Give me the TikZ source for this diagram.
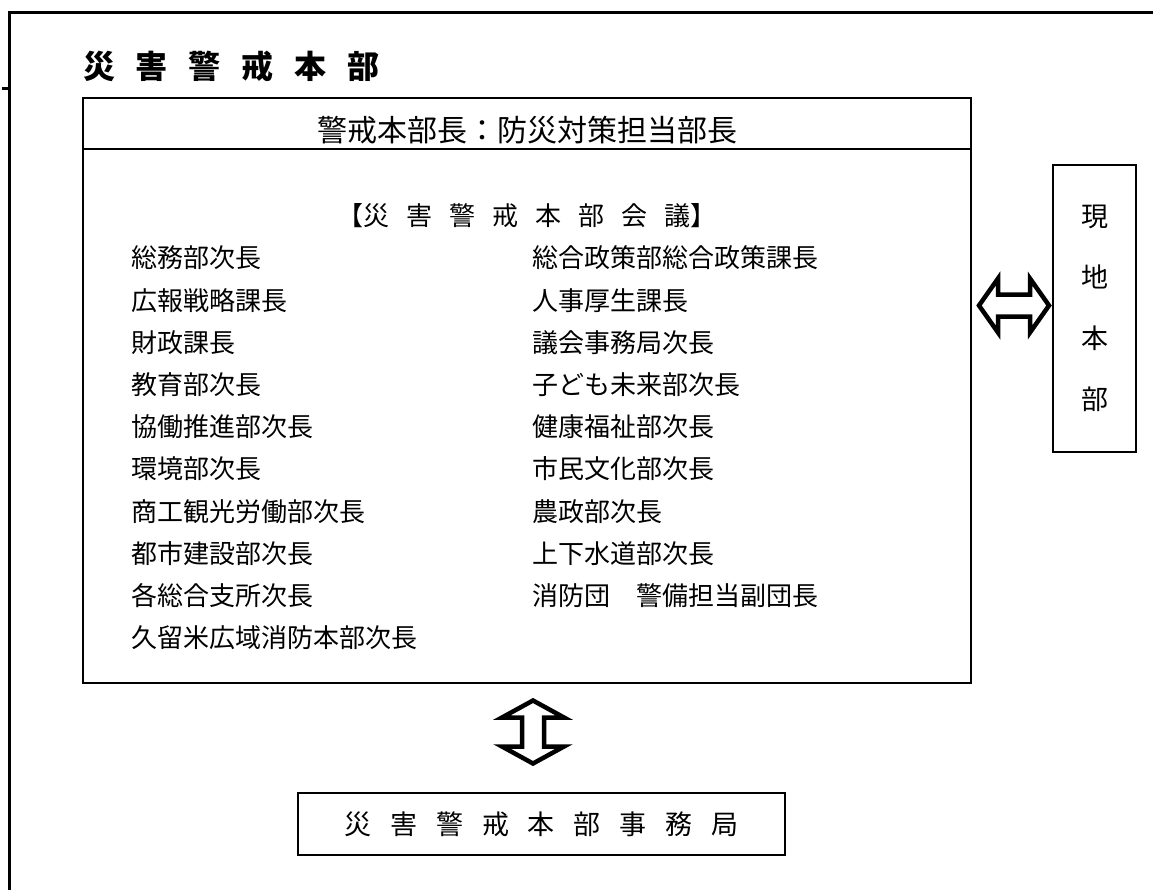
\documentclass[tikz,border=0pt]{standalone}
\usepackage{fontspec}
\setmainfont{Noto Sans CJK JP}
\usetikzlibrary{%
    calc,
    positioning
}
\tikzset{
    panel/.style = {draw, line width=2pt, inner sep=0pt},
    fatarrow/.style = {draw, line width=4.5pt, fill=white, line join=miter},
    member/.style = {anchor=west, inner sep=0pt, font=\fontsize{26}{26}\selectfont},
}
\newcommand{\kgap}[1][0.65em]{\hspace{#1}}

\begin{document}
\begin{tikzpicture}[x=1pt, y=-1pt]
    \useasboundingbox (0,0) rectangle (1153,889);
    % outer frame runs off the page on the right and bottom
    \draw[line width=3pt] (9,920) |- (1190,12);
    \draw[line width=3pt] (2,88) -- (9,88);

    \node[anchor=west, inner sep=0pt, font=\fontsize{32}{32}\selectfont\bfseries] (title) at (83,66)
        {災\kgap 害\kgap 警\kgap 戒\kgap 本\kgap 部};

    \node[panel, minimum width=888pt, minimum height=585pt] (kaigi) at (527,390.5) {};
    \node[inner sep=0pt, font=\fontsize{30}{30}\selectfont] (chief) at (527,130) {警戒本部長：防災対策担当部長};
    \draw[line width=1.5pt] ($(kaigi.north west)+(0,52)$) -- ($(kaigi.north east)+(0,52)$);
    \node[member, anchor=center] (meeting) at (527,216)
        {【災\kgap 害\kgap 警\kgap 戒\kgap 本\kgap 部\kgap 会\kgap 議】};

    \foreach \name [count=\i from 0] in {総務部次長, 広報戦略課長, 財政課長, 教育部次長,
            協働推進部次長, 環境部次長, 商工観光労働部次長, 都市建設部次長,
            各総合支所次長, 久留米広域消防本部次長}
        \node[member] (left-\i) at (131,{258+42.2*\i}) {\name};
    \foreach \name [count=\i from 0] in {総合政策部総合政策課長, 人事厚生課長, 議会事務局次長,
            子ども未来部次長, 健康福祉部次長, 市民文化部次長, 農政部次長,
            上下水道部次長, 消防団　警備担当副団長}
        \node[member] (right-\i) at (532,{258+42.2*\i}) {\name};

    \node[panel, minimum width=83pt, minimum height=287pt, align=center,
        font=\fontsize{27}{61}\selectfont] (genchi) at (1094.5,308.5) {現\\地\\本\\部};
    \node[panel, minimum width=487pt, minimum height=62pt, font=\fontsize{27}{27}\selectfont] (jimu) at (541.5,824)
        {災\kgap[0.7em]害\kgap[0.7em]警\kgap[0.7em]戒\kgap[0.7em]本\kgap[0.7em]部\kgap[0.7em]事\kgap[0.7em]務\kgap[0.7em]局};

    % hollow double arrows
    \coordinate (h-l) at ($(kaigi.east |- genchi.west)+(7,-3)$);
    \coordinate (h-r) at ($(genchi.west)+(-3,-3)$);
    \draw[fatarrow] (h-l) -- ++(19,-27) -- ++(0,16) -- ($(h-r)+(-19,-11)$) -- ++(0,-16) -- (h-r)
        -- ++(-19,27) -- ++(0,-16) -- ($(h-l)+(19,11)$) -- ++(0,16) -- cycle;

    \coordinate (v-t) at ($(kaigi.south)+(6,16.5)$);
    \coordinate (v-b) at ($(jimu.north)+(-8.5,-28.5)$);
    \draw[fatarrow] (v-t) -- ++(31,17) -- ++(-20,0) -- ($(v-b)+(11,-17)$) -- ++(20,0) -- (v-b)
        -- ++(-31,-17) -- ++(20,0) -- ($(v-t)+(-11,17)$) -- ++(-20,0) -- cycle;
\end{tikzpicture}
\end{document}
